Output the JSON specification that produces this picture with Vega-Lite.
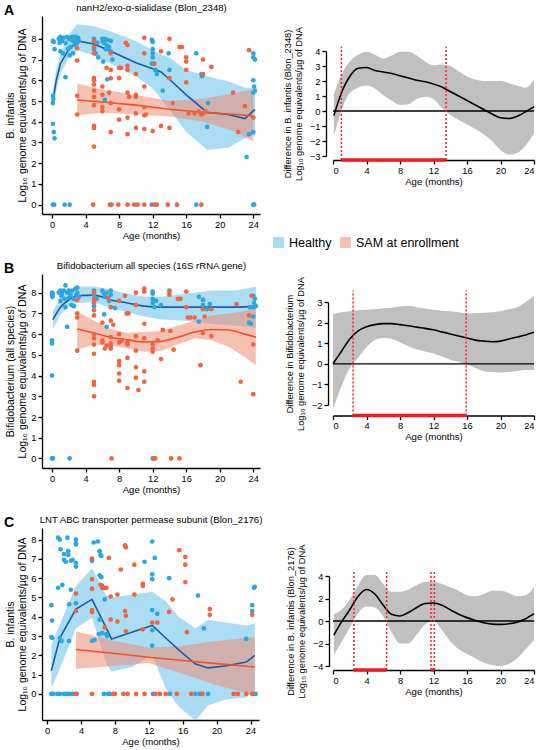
{
"$schema": "https://vega.github.io/schema/vega-lite/v6.json",
"padding": {"left": 4, "top": 2, "right": 2, "bottom": 2},
"spacing": 20,
"config": {
  "font": "Liberation Sans",
  "view": {"stroke": null},
  "axis": {"domainColor": "#000", "domainWidth": 1.3, "tickColor": "#000", "tickWidth": 1.3, "tickSize": 4, "labelFontSize": 9.3, "labelColor": "#000", "titleFontSize": 9.6, "titleFontWeight": "normal", "titleColor": "#000", "grid": false, "labelPadding": 2, "labelOverlap": false, "format": "d"},
  "title": {"fontSize": 14, "fontWeight": "bold", "color": "#000"},
  "legend": {"labelFontSize": 12.5, "labelColor": "#000"}
},
"datasets": {
  "ptsA": [
    {"a":0.1,"v":7.9,"g":"H"},{"a":0.2,"v":7.85,"g":"H"},{"a":0.3,"v":7.5,"g":"H"},{"a":0.1,"v":5.25,"g":"H"},{"a":0.15,"v":5.1,"g":"H"},{"a":0.1,"v":4.9,"g":"H"},{"a":0.1,"v":3.9,"g":"H"},{"a":0.2,"v":3.5,"g":"H"},{"a":0.3,"v":3.2,"g":"H"},{"a":0.1,"v":0,"g":"H"},{"a":0.25,"v":0,"g":"H"},
    {"a":0.8,"v":8.0,"g":"H"},{"a":1.0,"v":8.1,"g":"H"},{"a":1.2,"v":7.9,"g":"H"},{"a":1.4,"v":8.05,"g":"H"},{"a":1.6,"v":7.8,"g":"H"},{"a":1.8,"v":8.1,"g":"H"},{"a":2.0,"v":8.0,"g":"H"},{"a":2.2,"v":7.6,"g":"H"},{"a":2.4,"v":8.1,"g":"H"},{"a":2.6,"v":7.9,"g":"H"},{"a":2.8,"v":8.1,"g":"H"},{"a":3.0,"v":7.95,"g":"H"},{"a":3.1,"v":8.05,"g":"H"},{"a":1.0,"v":7.4,"g":"H"},{"a":1.3,"v":7.3,"g":"H"},{"a":1.9,"v":7.5,"g":"H"},{"a":2.5,"v":7.3,"g":"H"},{"a":1.6,"v":6.15,"g":"H"},{"a":3.2,"v":7.9,"g":"H"},{"a":0.9,"v":7.8,"g":"H"},{"a":2.1,"v":7.2,"g":"H"},{"a":1.1,"v":8.0,"g":"H"},{"a":2.3,"v":7.95,"g":"H"},{"a":2.7,"v":7.7,"g":"H"},{"a":3.0,"v":7.8,"g":"H"},{"a":1.5,"v":0,"g":"H"},{"a":2.1,"v":0,"g":"H"},
    {"a":5,"v":8.0,"g":"H"},{"a":5,"v":7.9,"g":"H"},{"a":5,"v":7.6,"g":"H"},{"a":5,"v":7.5,"g":"H"},{"a":5.2,"v":7.3,"g":"H"},{"a":5.5,"v":7.1,"g":"H"},{"a":5.4,"v":7.8,"g":"H"},
    {"a":6,"v":7.9,"g":"H"},{"a":6.2,"v":7.8,"g":"H"},{"a":6.3,"v":8.0,"g":"H"},{"a":6.5,"v":7.7,"g":"H"},{"a":6.4,"v":7.5,"g":"H"},{"a":6.1,"v":6.9,"g":"H"},{"a":6.6,"v":6.05,"g":"H"},{"a":6.8,"v":7.6,"g":"H"},{"a":7,"v":7.9,"g":"H"},{"a":7,"v":7.4,"g":"H"},{"a":7.2,"v":7.0,"g":"H"},{"a":6.3,"v":5.05,"g":"H"},{"a":6,"v":8.0,"g":"H"},{"a":6.6,"v":7.95,"g":"H"},
    {"a":11.9,"v":7.95,"g":"H"},{"a":12,"v":7.85,"g":"H"},{"a":12,"v":7.5,"g":"H"},{"a":12,"v":7.3,"g":"H"},{"a":12,"v":7.1,"g":"H"},{"a":12.1,"v":6.8,"g":"H"},{"a":12.3,"v":6.5,"g":"H"},{"a":11.9,"v":6.8,"g":"H"},{"a":12.5,"v":6.3,"g":"H"},{"a":13.2,"v":5.5,"g":"H"},{"a":13.9,"v":7.3,"g":"H"},{"a":14,"v":6.5,"g":"H"},{"a":11.9,"v":0,"g":"H"},
    {"a":17.2,"v":7.3,"g":"H"},{"a":17.8,"v":6.3,"g":"H"},{"a":17.9,"v":6.2,"g":"H"},{"a":18.5,"v":3.75,"g":"H"},{"a":18.6,"v":4.9,"g":"H"},{"a":17.2,"v":0,"g":"H"},
    {"a":23.2,"v":2.3,"g":"H"},{"a":23.5,"v":3.4,"g":"H"},{"a":24,"v":7.3,"g":"H"},{"a":24,"v":7.1,"g":"H"},{"a":24.2,"v":7.0,"g":"H"},{"a":24,"v":6.0,"g":"H"},{"a":24.1,"v":5.7,"g":"H"},{"a":24.2,"v":5.5,"g":"H"},{"a":24,"v":5.4,"g":"H"},{"a":24,"v":3.5,"g":"H"},{"a":24,"v":0,"g":"H"},{"a":24.1,"v":0,"g":"H"},
    {"a":3,"v":7.55,"g":"S"},{"a":3,"v":6.95,"g":"S"},{"a":3,"v":5.25,"g":"S"},{"a":3,"v":4.35,"g":"S"},
    {"a":5,"v":7.9,"g":"S"},{"a":5,"v":7.6,"g":"S"},{"a":5,"v":7.3,"g":"S"},{"a":5,"v":6.1,"g":"S"},{"a":5,"v":6.0,"g":"S"},{"a":5,"v":5.8,"g":"S"},{"a":5,"v":5.5,"g":"S"},{"a":5,"v":5.2,"g":"S"},{"a":5,"v":4.8,"g":"S"},{"a":5,"v":3.8,"g":"S"},{"a":5,"v":3.7,"g":"S"},{"a":5,"v":2.8,"g":"S"},{"a":4.9,"v":0,"g":"S"},
    {"a":6,"v":5.7,"g":"S"},{"a":6,"v":5.3,"g":"S"},{"a":6,"v":4.7,"g":"S"},{"a":6,"v":4.5,"g":"S"},{"a":6.5,"v":6.6,"g":"S"},{"a":6.8,"v":5.4,"g":"S"},{"a":7,"v":7.3,"g":"S"},{"a":7,"v":6.5,"g":"S"},{"a":7,"v":6.1,"g":"S"},{"a":7,"v":4.9,"g":"S"},{"a":7,"v":3.5,"g":"S"},{"a":6.9,"v":0,"g":"S"},{"a":7.1,"v":0,"g":"S"},
    {"a":8,"v":6.6,"g":"S"},{"a":8,"v":6.1,"g":"S"},{"a":8,"v":4.6,"g":"S"},{"a":8,"v":4.1,"g":"S"},{"a":8.2,"v":6.6,"g":"S"},{"a":7.9,"v":0,"g":"S"},
    {"a":8.8,"v":7.8,"g":"S"},{"a":9,"v":7.7,"g":"S"},{"a":9,"v":6.7,"g":"S"},{"a":9,"v":6.5,"g":"S"},{"a":9,"v":5.4,"g":"S"},{"a":9.2,"v":5.2,"g":"S"},{"a":9,"v":4.2,"g":"S"},{"a":9,"v":3.4,"g":"S"},{"a":9,"v":0,"g":"S"},
    {"a":10,"v":6.3,"g":"S"},{"a":10,"v":5.3,"g":"S"},{"a":10,"v":5.2,"g":"S"},{"a":10,"v":4.4,"g":"S"},{"a":10,"v":3.7,"g":"S"},{"a":9.8,"v":0,"g":"S"},{"a":10.2,"v":0,"g":"S"},
    {"a":11,"v":8.05,"g":"S"},{"a":11,"v":7.3,"g":"S"},{"a":11,"v":5.7,"g":"S"},{"a":11,"v":4.7,"g":"S"},{"a":11,"v":4.3,"g":"S"},{"a":11.2,"v":4.35,"g":"S"},{"a":11,"v":3.65,"g":"S"},{"a":11,"v":0,"g":"S"},
    {"a":12,"v":3.55,"g":"S"},{"a":12.2,"v":6.8,"g":"S"},{"a":12.2,"v":0,"g":"S"},{"a":12.5,"v":0,"g":"S"},{"a":13,"v":7.4,"g":"S"},{"a":13,"v":3.8,"g":"S"},
    {"a":14,"v":8.0,"g":"S"},{"a":14,"v":6.1,"g":"S"},{"a":14,"v":3.7,"g":"S"},{"a":13.8,"v":0,"g":"S"},{"a":14.4,"v":4.9,"g":"S"},
    {"a":15.2,"v":7.6,"g":"S"},{"a":15.5,"v":7.6,"g":"S"},{"a":14.9,"v":0,"g":"S"},{"a":16,"v":7.1,"g":"S"},{"a":16,"v":6.9,"g":"S"},{"a":16,"v":6.5,"g":"S"},{"a":16,"v":5.9,"g":"S"},{"a":16.3,"v":4.4,"g":"S"},
    {"a":17,"v":4.4,"g":"S"},{"a":17.5,"v":4.5,"g":"S"},{"a":17.8,"v":4.35,"g":"S"},{"a":18,"v":7.0,"g":"S"},{"a":18,"v":6.3,"g":"S"},{"a":18,"v":4.4,"g":"S"},{"a":17.8,"v":0,"g":"S"},{"a":18.3,"v":4.5,"g":"S"},{"a":19,"v":6.65,"g":"S"},
    {"a":21.6,"v":5.4,"g":"S"},{"a":22.2,"v":3.5,"g":"S"},{"a":23,"v":4.75,"g":"S"},{"a":23.5,"v":7.45,"g":"S"},{"a":24,"v":4.2,"g":"S"}
  ],
  "fitA": [
    {"a":0.1,"f":5.0,"lo":4.75,"hi":5.45,"g":"H"},{"a":0.5,"f":6.0,"lo":5.5,"hi":6.5,"g":"H"},{"a":1,"f":6.8,"lo":6.3,"hi":7.3,"g":"H"},{"a":2,"f":7.5,"lo":7.1,"hi":8.2,"g":"H"},{"a":3,"f":7.9,"lo":7.45,"hi":8.7,"g":"H"},{"a":5,"f":7.75,"lo":7.2,"hi":8.6,"g":"H"},{"a":7,"f":7.4,"lo":6.8,"hi":8.35,"g":"H"},{"a":10,"f":6.85,"lo":6.2,"hi":7.9,"g":"H"},{"a":12,"f":6.55,"lo":5.6,"hi":7.45,"g":"H"},{"a":13,"f":6.4,"lo":5.1,"hi":7.25,"g":"H"},{"a":14,"f":6.05,"lo":4.6,"hi":7.1,"g":"H"},{"a":16,"f":5.3,"lo":3.5,"hi":6.5,"g":"H"},{"a":18.5,"f":4.45,"lo":2.65,"hi":6.2,"g":"H"},{"a":21,"f":4.35,"lo":2.75,"hi":5.95,"g":"H"},{"a":23,"f":4.15,"lo":3.2,"hi":5.65,"g":"H"},{"a":24.2,"f":4.6,"lo":3.35,"hi":5.6,"g":"H"},
    {"a":3,"f":5.05,"lo":4.3,"hi":5.85,"g":"S"},{"a":6,"f":4.95,"lo":4.45,"hi":5.55,"g":"S"},{"a":10,"f":4.8,"lo":4.35,"hi":5.3,"g":"S"},{"a":14,"f":4.6,"lo":4.25,"hi":5.0,"g":"S"},{"a":18,"f":4.45,"lo":4.0,"hi":5.1,"g":"S"},{"a":22,"f":4.35,"lo":3.5,"hi":5.4,"g":"S"},{"a":24,"f":4.28,"lo":3.05,"hi":5.55,"g":"S"}
  ],
  "ptsB": [
    {"a":0,"v":8.0,"g":"H"},{"a":0,"v":7.9,"g":"H"},{"a":0.05,"v":7.8,"g":"H"},{"a":0.1,"v":7.95,"g":"H"},{"a":0,"v":5.7,"g":"H"},{"a":0,"v":5.55,"g":"H"},{"a":0,"v":4.0,"g":"H"},{"a":0,"v":0,"g":"H"},{"a":0.1,"v":0,"g":"H"},{"a":2.1,"v":0,"g":"H"},
    {"a":0.8,"v":8.0,"g":"H"},{"a":1,"v":8.1,"g":"H"},{"a":1.2,"v":7.95,"g":"H"},{"a":1.4,"v":8.1,"g":"H"},{"a":1.6,"v":8.35,"g":"H"},{"a":1.5,"v":7.7,"g":"H"},{"a":1.8,"v":8.0,"g":"H"},{"a":2,"v":8.1,"g":"H"},{"a":2.2,"v":7.9,"g":"H"},{"a":2.4,"v":8.1,"g":"H"},{"a":2.6,"v":7.7,"g":"H"},{"a":2.8,"v":8.2,"g":"H"},{"a":3,"v":8.0,"g":"H"},{"a":3,"v":8.25,"g":"H"},{"a":1,"v":7.6,"g":"H"},{"a":2.3,"v":7.4,"g":"H"},{"a":1.8,"v":6.35,"g":"H"},{"a":1.6,"v":7.3,"g":"H"},{"a":3.2,"v":7.8,"g":"H"},{"a":2.6,"v":7.35,"g":"H"},{"a":1.1,"v":7.85,"g":"H"},{"a":2.0,"v":7.75,"g":"H"},{"a":2.9,"v":7.9,"g":"H"},
    {"a":5,"v":8.1,"g":"H"},{"a":5,"v":7.9,"g":"H"},{"a":5,"v":7.5,"g":"H"},{"a":5,"v":7.35,"g":"H"},{"a":5.3,"v":7.7,"g":"H"},
    {"a":6,"v":8.1,"g":"H"},{"a":6.2,"v":7.95,"g":"H"},{"a":6.3,"v":7.8,"g":"H"},{"a":6.5,"v":8.0,"g":"H"},{"a":6.8,"v":7.6,"g":"H"},{"a":7,"v":8.1,"g":"H"},{"a":7,"v":7.9,"g":"H"},{"a":6.2,"v":6.95,"g":"H"},{"a":6.5,"v":6.35,"g":"H"},{"a":7.5,"v":7.25,"g":"H"},
    {"a":12,"v":8.05,"g":"H"},{"a":12,"v":7.95,"g":"H"},{"a":12,"v":7.7,"g":"H"},{"a":12,"v":7.5,"g":"H"},{"a":12.2,"v":7.3,"g":"H"},{"a":12.4,"v":7.6,"g":"H"},{"a":13,"v":7.4,"g":"H"},{"a":12,"v":0,"g":"H"},
    {"a":14,"v":8.1,"g":"H"},{"a":17.5,"v":7.8,"g":"H"},{"a":17.5,"v":6.6,"g":"H"},{"a":18,"v":7.65,"g":"H"},{"a":18,"v":7.4,"g":"H"},{"a":18.5,"v":7.2,"g":"H"},{"a":18.8,"v":7.45,"g":"H"},
    {"a":24,"v":7.85,"g":"H"},{"a":24.2,"v":7.7,"g":"H"},{"a":24.1,"v":7.5,"g":"H"},{"a":24,"v":7.3,"g":"H"},{"a":24.3,"v":7.35,"g":"H"},{"a":23.5,"v":6.55,"g":"H"},{"a":23.7,"v":6.5,"g":"H"},{"a":24,"v":6.85,"g":"H"},{"a":23.6,"v":7.3,"g":"H"},
    {"a":3,"v":7.65,"g":"S"},{"a":3,"v":7.0,"g":"S"},{"a":3,"v":6.8,"g":"S"},{"a":3,"v":5.2,"g":"S"},
    {"a":5,"v":8.0,"g":"S"},{"a":5,"v":7.7,"g":"S"},{"a":5,"v":7.5,"g":"S"},{"a":5,"v":7.15,"g":"S"},{"a":5,"v":6.9,"g":"S"},{"a":5,"v":6.0,"g":"S"},{"a":5,"v":5.8,"g":"S"},{"a":5,"v":5.5,"g":"S"},{"a":5,"v":5.05,"g":"S"},{"a":5,"v":3.7,"g":"S"},{"a":5,"v":3.55,"g":"S"},{"a":5,"v":3.0,"g":"S"},
    {"a":6,"v":6.55,"g":"S"},{"a":6,"v":5.7,"g":"S"},{"a":6,"v":5.6,"g":"S"},{"a":6.3,"v":5.3,"g":"S"},{"a":6.5,"v":5.45,"g":"S"},{"a":6.7,"v":7.75,"g":"S"},{"a":7,"v":6.65,"g":"S"},{"a":7,"v":5.85,"g":"S"},{"a":7,"v":5.55,"g":"S"},{"a":7,"v":5.4,"g":"S"},{"a":7,"v":5.3,"g":"S"},{"a":7,"v":7.3,"g":"S"},{"a":7.1,"v":0,"g":"S"},{"a":7.3,"v":6.45,"g":"S"},
    {"a":8,"v":7.6,"g":"S"},{"a":8,"v":6.0,"g":"S"},{"a":8,"v":5.6,"g":"S"},{"a":8,"v":4.7,"g":"S"},{"a":8,"v":4.5,"g":"S"},{"a":8,"v":4.1,"g":"S"},{"a":8,"v":3.75,"g":"S"},{"a":8.3,"v":5.7,"g":"S"},
    {"a":8.7,"v":7.85,"g":"S"},{"a":8.9,"v":7.0,"g":"S"},{"a":9.1,"v":7.0,"g":"S"},{"a":9,"v":5.6,"g":"S"},{"a":9,"v":5.5,"g":"S"},{"a":9,"v":4.85,"g":"S"},{"a":9,"v":3.4,"g":"S"},
    {"a":10,"v":8.0,"g":"S"},{"a":10,"v":7.4,"g":"S"},{"a":10,"v":5.9,"g":"S"},{"a":10,"v":5.2,"g":"S"},{"a":10,"v":4.4,"g":"S"},{"a":10,"v":3.9,"g":"S"},{"a":10.3,"v":3.3,"g":"S"},
    {"a":11,"v":8.2,"g":"S"},{"a":11,"v":8.05,"g":"S"},{"a":11,"v":6.5,"g":"S"},{"a":11,"v":5.8,"g":"S"},{"a":11,"v":4.2,"g":"S"},{"a":11,"v":3.7,"g":"S"},
    {"a":12,"v":5.5,"g":"S"},{"a":12,"v":5.3,"g":"S"},{"a":12,"v":5.15,"g":"S"},{"a":12.1,"v":0,"g":"S"},{"a":12.3,"v":0,"g":"S"},{"a":12.6,"v":5.7,"g":"S"},{"a":13,"v":4.8,"g":"S"},{"a":13.2,"v":6.2,"g":"S"},
    {"a":14,"v":8.05,"g":"S"},{"a":14,"v":7.9,"g":"S"},{"a":14.1,"v":6.15,"g":"S"},{"a":14.2,"v":0,"g":"S"},{"a":14.5,"v":5.25,"g":"S"},
    {"a":15,"v":7.7,"g":"S"},{"a":15.3,"v":7.7,"g":"S"},{"a":15.2,"v":0,"g":"S"},{"a":16,"v":8.05,"g":"S"},{"a":16,"v":7.3,"g":"S"},{"a":16.2,"v":6.8,"g":"S"},{"a":16.5,"v":6.8,"g":"S"},{"a":17,"v":6.8,"g":"S"},{"a":17.7,"v":4.5,"g":"S"},{"a":18,"v":7.2,"g":"S"},{"a":18,"v":6.05,"g":"S"},{"a":18.2,"v":6.85,"g":"S"},{"a":19,"v":7.2,"g":"S"},{"a":19,"v":5.9,"g":"S"},
    {"a":22,"v":7.45,"g":"S"},{"a":22.5,"v":3.7,"g":"S"},{"a":23.5,"v":6.9,"g":"S"},{"a":23.8,"v":7.85,"g":"S"},{"a":24,"v":5.5,"g":"S"},{"a":24,"v":3.1,"g":"S"}
  ],
  "fitB": [
    {"a":0.1,"f":6.7,"lo":6.25,"hi":7.1,"g":"H"},{"a":1,"f":7.3,"lo":6.95,"hi":7.7,"g":"H"},{"a":2,"f":7.65,"lo":7.35,"hi":8.1,"g":"H"},{"a":3,"f":7.85,"lo":7.5,"hi":8.3,"g":"H"},{"a":5,"f":7.88,"lo":7.55,"hi":8.3,"g":"H"},{"a":7,"f":7.65,"lo":7.25,"hi":8.15,"g":"H"},{"a":9,"f":7.5,"lo":7.05,"hi":7.95,"g":"H"},{"a":11,"f":7.35,"lo":6.85,"hi":7.8,"g":"H"},{"a":13,"f":7.3,"lo":6.7,"hi":7.8,"g":"H"},{"a":16,"f":7.3,"lo":6.65,"hi":7.95,"g":"H"},{"a":19,"f":7.3,"lo":6.5,"hi":8.1,"g":"H"},{"a":22,"f":7.3,"lo":6.4,"hi":8.1,"g":"H"},{"a":24.3,"f":7.35,"lo":6.3,"hi":8.3,"g":"H"},
    {"a":3,"f":6.25,"lo":5.25,"hi":7.1,"g":"S"},{"a":5,"f":6.05,"lo":5.5,"hi":6.65,"g":"S"},{"a":7,"f":5.85,"lo":5.45,"hi":6.25,"g":"S"},{"a":9,"f":5.72,"lo":5.3,"hi":6.05,"g":"S"},{"a":11,"f":5.62,"lo":5.15,"hi":6.1,"g":"S"},{"a":13,"f":5.65,"lo":5.2,"hi":6.15,"g":"S"},{"a":15,"f":5.85,"lo":5.5,"hi":6.4,"g":"S"},{"a":17,"f":6.1,"lo":5.8,"hi":6.65,"g":"S"},{"a":19,"f":6.22,"lo":5.7,"hi":6.9,"g":"S"},{"a":21,"f":6.2,"lo":5.4,"hi":7.0,"g":"S"},{"a":23,"f":6.0,"lo":4.9,"hi":7.1,"g":"S"},{"a":24.3,"f":5.85,"lo":4.5,"hi":7.3,"g":"S"}
  ],
  "ptsC": [
    {"a":0.5,"v":4.6,"g":"H"},{"a":0.6,"v":3.8,"g":"H"},{"a":0.5,"v":2.95,"g":"H"},{"a":0.6,"v":2.9,"g":"H"},{"a":0.5,"v":0,"g":"H"},{"a":0.7,"v":0,"g":"H"},
    {"a":1.3,"v":8.1,"g":"H"},{"a":1.5,"v":8.0,"g":"H"},{"a":1.6,"v":7.5,"g":"H"},{"a":1.3,"v":5.5,"g":"H"},{"a":1.8,"v":5.65,"g":"H"},{"a":1.5,"v":2.9,"g":"H"},{"a":1.7,"v":2.75,"g":"H"},{"a":2,"v":7.25,"g":"H"},{"a":2,"v":6.95,"g":"H"},{"a":2.2,"v":6.85,"g":"H"},{"a":2.4,"v":8.1,"g":"H"},{"a":2.5,"v":7.4,"g":"H"},{"a":2.5,"v":7.2,"g":"H"},{"a":2.6,"v":4.65,"g":"H"},{"a":2.8,"v":5.4,"g":"H"},{"a":2.8,"v":6.9,"g":"H"},{"a":3,"v":6.95,"g":"H"},{"a":3.4,"v":8.0,"g":"H"},{"a":3.4,"v":7.8,"g":"H"},{"a":3.4,"v":7.75,"g":"H"},{"a":3.4,"v":6.8,"g":"H"},{"a":3.4,"v":6.6,"g":"H"},{"a":3.4,"v":4.7,"g":"H"},{"a":2.6,"v":2.75,"g":"H"},
    {"a":1.2,"v":0,"g":"H"},{"a":1.5,"v":0,"g":"H"},{"a":2,"v":0,"g":"H"},{"a":2.3,"v":0,"g":"H"},{"a":2.6,"v":0,"g":"H"},{"a":3,"v":0,"g":"H"},{"a":3.5,"v":0,"g":"H"},
    {"a":5.3,"v":7.0,"g":"H"},{"a":5.3,"v":6.9,"g":"H"},{"a":5.5,"v":7.85,"g":"H"},{"a":5.3,"v":5.45,"g":"H"},{"a":5.3,"v":2.75,"g":"H"},{"a":5.6,"v":2.8,"g":"H"},{"a":6,"v":7.9,"g":"H"},{"a":6.2,"v":7.4,"g":"H"},{"a":6.3,"v":7.2,"g":"H"},{"a":6.4,"v":7.15,"g":"H"},{"a":6.4,"v":6.05,"g":"H"},{"a":6.2,"v":6.15,"g":"H"},{"a":6.2,"v":3.85,"g":"H"},{"a":6.5,"v":5.6,"g":"H"},{"a":6.1,"v":3.1,"g":"H"},{"a":6.5,"v":3.15,"g":"H"},{"a":6.8,"v":4.9,"g":"H"},{"a":7,"v":3.1,"g":"H"},{"a":7.1,"v":3.0,"g":"H"},{"a":6.7,"v":0,"g":"H"},{"a":7.2,"v":0,"g":"H"},{"a":7.4,"v":0,"g":"H"},
    {"a":12.4,"v":7.9,"g":"H"},{"a":12.4,"v":6.2,"g":"H"},{"a":12.4,"v":5.95,"g":"H"},{"a":12.4,"v":4.35,"g":"H"},{"a":12.4,"v":3.3,"g":"H"},{"a":12.4,"v":2.5,"g":"H"},{"a":12.7,"v":7.05,"g":"H"},{"a":11.5,"v":6.85,"g":"H"},{"a":13,"v":4.15,"g":"H"},{"a":14.4,"v":6.0,"g":"H"},{"a":12.5,"v":0,"g":"H"},{"a":14.5,"v":0,"g":"H"},
    {"a":17.8,"v":5.1,"g":"H"},{"a":18.5,"v":3.4,"g":"H"},{"a":17.5,"v":0,"g":"H"},{"a":18,"v":0,"g":"H"},{"a":18.3,"v":0,"g":"H"},{"a":19,"v":0,"g":"H"},
    {"a":23.5,"v":2.85,"g":"H"},{"a":24.2,"v":4.6,"g":"H"},{"a":24.2,"v":4.3,"g":"H"},{"a":24.4,"v":5.5,"g":"H"},{"a":24.5,"v":5.55,"g":"H"},{"a":24.3,"v":0,"g":"H"},{"a":24.6,"v":0,"g":"H"},
    {"a":3.4,"v":5.2,"g":"S"},{"a":3.4,"v":4.3,"g":"S"},{"a":3.4,"v":0,"g":"S"},
    {"a":5.3,"v":7.0,"g":"S"},{"a":5.3,"v":5.95,"g":"S"},{"a":5.3,"v":5.45,"g":"S"},{"a":5.3,"v":4.35,"g":"S"},{"a":5.3,"v":4.25,"g":"S"},{"a":5.3,"v":0,"g":"S"},{"a":6.3,"v":5.65,"g":"S"},{"a":6.5,"v":5.5,"g":"S"},{"a":6.8,"v":5.5,"g":"S"},{"a":7,"v":5.5,"g":"S"},{"a":6.8,"v":3.45,"g":"S"},{"a":7.3,"v":7.05,"g":"S"},{"a":7.5,"v":5.05,"g":"S"},{"a":7.5,"v":3.85,"g":"S"},{"a":8,"v":0,"g":"S"},{"a":7.8,"v":0,"g":"S"},
    {"a":8.3,"v":5.15,"g":"S"},{"a":8.3,"v":3.75,"g":"S"},{"a":8.7,"v":6.45,"g":"S"},{"a":9.2,"v":7.7,"g":"S"},{"a":9.3,"v":7.6,"g":"S"},{"a":9.2,"v":4.3,"g":"S"},{"a":9.3,"v":4.05,"g":"S"},{"a":9.3,"v":3.25,"g":"S"},{"a":10.3,"v":6.7,"g":"S"},{"a":10.3,"v":5.15,"g":"S"},{"a":11.3,"v":5.7,"g":"S"},{"a":11.3,"v":5.6,"g":"S"},{"a":11.3,"v":3.35,"g":"S"},{"a":12.4,"v":3.7,"g":"S"},{"a":13,"v":3.7,"g":"S"},{"a":13.3,"v":0,"g":"S"},{"a":9,"v":0,"g":"S"},{"a":9.5,"v":0,"g":"S"},{"a":10.5,"v":0,"g":"S"},{"a":11.5,"v":0,"g":"S"},{"a":12.8,"v":0,"g":"S"},{"a":14,"v":0,"g":"S"},{"a":15.3,"v":0,"g":"S"},
    {"a":14.4,"v":4.25,"g":"S"},{"a":14.8,"v":4.9,"g":"S"},{"a":15.6,"v":7.45,"g":"S"},{"a":16.3,"v":7.1,"g":"S"},{"a":16.3,"v":6.7,"g":"S"},{"a":16.3,"v":5.8,"g":"S"},{"a":16.5,"v":3.2,"g":"S"},{"a":17,"v":0,"g":"S"},{"a":18.3,"v":0,"g":"S"},
    {"a":19.2,"v":4.4,"g":"S"},{"a":19.2,"v":4.1,"g":"S"},
    {"a":22,"v":0,"g":"S"},{"a":22.5,"v":0,"g":"S"},{"a":23.5,"v":0,"g":"S"},{"a":24.2,"v":4.1,"g":"S"},{"a":24.2,"v":0,"g":"S"}
  ],
  "fitC": [
    {"a":0.5,"f":1.2,"lo":0.3,"hi":2.55,"g":"H"},{"a":1.5,"f":2.9,"lo":1.3,"hi":3.6,"g":"H"},{"a":3.4,"f":4.4,"lo":3.4,"hi":5.6,"g":"H"},{"a":5.3,"f":4.9,"lo":3.95,"hi":6.5,"g":"H"},{"a":7,"f":3.4,"lo":1.6,"hi":5.1,"g":"H"},{"a":7.6,"f":2.85,"lo":1.15,"hi":5.0,"g":"H"},{"a":10,"f":3.2,"lo":1.4,"hi":5.15,"g":"H"},{"a":12.4,"f":3.55,"lo":2.0,"hi":5.3,"g":"H"},{"a":14,"f":2.9,"lo":0.3,"hi":4.8,"g":"H"},{"a":15.5,"f":2.3,"lo":-0.65,"hi":4.0,"g":"H"},{"a":17.5,"f":1.55,"lo":-1.38,"hi":3.4,"g":"H"},{"a":19,"f":1.35,"lo":-0.6,"hi":3.85,"g":"H"},{"a":21,"f":1.45,"lo":-0.3,"hi":3.7,"g":"H"},{"a":23.5,"f":1.65,"lo":-0.17,"hi":3.55,"g":"H"},{"a":24.5,"f":2.0,"lo":0.2,"hi":3.65,"g":"H"},
    {"a":3.4,"f":2.3,"lo":1.3,"hi":3.25,"g":"S"},{"a":8,"f":2.1,"lo":1.45,"hi":2.75,"g":"S"},{"a":12,"f":1.9,"lo":1.6,"hi":2.4,"g":"S"},{"a":16,"f":1.73,"lo":1.05,"hi":2.5,"g":"S"},{"a":20,"f":1.57,"lo":0.45,"hi":2.75,"g":"S"},{"a":24.5,"f":1.4,"lo":-0.05,"hi":2.95,"g":"S"}
  ],
  "difA": [
    {"a":0.1,"d":-0.3,"lo":-1.7,"hi":1.1},{"a":1,"d":1.2,"lo":0.0,"hi":2.4},{"a":2,"d":2.3,"lo":1.2,"hi":3.3},{"a":3,"d":2.85,"lo":1.55,"hi":3.75},{"a":4,"d":2.9,"lo":1.7,"hi":3.95},{"a":5,"d":2.7,"lo":1.5,"hi":3.75},{"a":6,"d":2.6,"lo":1.05,"hi":3.5},{"a":7,"d":2.5,"lo":0.7,"hi":3.7},{"a":8,"d":2.35,"lo":0.4,"hi":3.95},{"a":9,"d":2.2,"lo":0.45,"hi":3.95},{"a":10,"d":2.05,"lo":0.8,"hi":3.7},{"a":11,"d":1.95,"lo":0.95,"hi":3.3},{"a":12,"d":1.8,"lo":0.8,"hi":3.05},{"a":13,"d":1.6,"lo":0.2,"hi":3.1},{"a":14,"d":1.3,"lo":-0.25,"hi":3.0},{"a":15,"d":1.0,"lo":-0.6,"hi":2.65},{"a":16,"d":0.7,"lo":-0.9,"hi":2.3},{"a":17,"d":0.4,"lo":-1.2,"hi":2.1},{"a":18,"d":0.1,"lo":-1.55,"hi":2.0},{"a":19,"d":-0.2,"lo":-2.0,"hi":2.0},{"a":20,"d":-0.45,"lo":-2.6,"hi":2.0},{"a":21,"d":-0.5,"lo":-2.9,"hi":1.85},{"a":22,"d":-0.35,"lo":-2.8,"hi":1.7},{"a":23,"d":-0.05,"lo":-2.3,"hi":1.55},{"a":24,"d":0.3,"lo":-1.5,"hi":2.1}
  ],
  "difB": [
    {"a":0,"d":0.0,"lo":-2.2,"hi":2.4},{"a":1,"d":0.6,"lo":-1.1,"hi":2.5},{"a":2,"d":1.2,"lo":-0.2,"hi":2.55},{"a":3,"d":1.6,"lo":0.3,"hi":2.6},{"a":4,"d":1.8,"lo":0.8,"hi":2.62},{"a":5,"d":1.9,"lo":1.15,"hi":2.65},{"a":6,"d":1.95,"lo":1.25,"hi":2.7},{"a":7,"d":1.95,"lo":1.2,"hi":2.72},{"a":8,"d":1.9,"lo":1.05,"hi":2.78},{"a":9,"d":1.85,"lo":0.85,"hi":2.8},{"a":10,"d":1.78,"lo":0.7,"hi":2.75},{"a":11,"d":1.72,"lo":0.6,"hi":2.68},{"a":12,"d":1.65,"lo":0.5,"hi":2.62},{"a":13,"d":1.55,"lo":0.35,"hi":2.58},{"a":14,"d":1.45,"lo":0.2,"hi":2.55},{"a":15,"d":1.35,"lo":0.1,"hi":2.5},{"a":16,"d":1.25,"lo":-0.05,"hi":2.45},{"a":17,"d":1.15,"lo":-0.2,"hi":2.45},{"a":18,"d":1.1,"lo":-0.35,"hi":2.48},{"a":19,"d":1.07,"lo":-0.4,"hi":2.5},{"a":20,"d":1.1,"lo":-0.42,"hi":2.55},{"a":21,"d":1.2,"lo":-0.4,"hi":2.65},{"a":22,"d":1.3,"lo":-0.35,"hi":2.75},{"a":23,"d":1.4,"lo":-0.3,"hi":3.0},{"a":24,"d":1.53,"lo":-0.3,"hi":3.3}
  ],
  "difC": [
    {"a":0.1,"d":-1.25,"lo":-3.0,"hi":0.6},{"a":1,"d":-0.1,"lo":-1.9,"hi":1.0},{"a":2,"d":1.0,"lo":-0.6,"hi":1.9},{"a":3,"d":2.2,"lo":0.7,"hi":3.2},{"a":4,"d":2.8,"lo":1.3,"hi":4.1},{"a":5,"d":2.4,"lo":1.2,"hi":4.1},{"a":6,"d":1.4,"lo":0.4,"hi":3.3},{"a":7,"d":0.6,"lo":-1.0,"hi":2.6},{"a":8,"d":0.45,"lo":-2.0,"hi":2.6},{"a":9,"d":0.75,"lo":-2.0,"hi":2.8},{"a":10,"d":1.2,"lo":-1.2,"hi":3.2},{"a":11,"d":1.55,"lo":-0.3,"hi":3.5},{"a":12,"d":1.6,"lo":0.0,"hi":3.5},{"a":13,"d":1.4,"lo":-0.8,"hi":3.3},{"a":14,"d":1.0,"lo":-1.8,"hi":3.0},{"a":15,"d":0.6,"lo":-2.5,"hi":2.7},{"a":16,"d":0.3,"lo":-2.9,"hi":2.3},{"a":17,"d":0.05,"lo":-3.3,"hi":2.2},{"a":18,"d":-0.15,"lo":-3.7,"hi":2.4},{"a":19,"d":-0.28,"lo":-3.9,"hi":2.7},{"a":20,"d":-0.3,"lo":-4.0,"hi":2.7},{"a":21,"d":-0.25,"lo":-3.8,"hi":2.5},{"a":22,"d":-0.1,"lo":-3.3,"hi":2.2},{"a":23,"d":0.2,"lo":-2.5,"hi":2.3},{"a":24,"d":0.65,"lo":-1.7,"hi":3.0}
  ]
},
"hconcat": [
  {"bounds": "flush", "spacing": 60, "vconcat": [
    {"width": 218, "height": 198,
     "title": {"text": "A", "anchor": "start", "frame": "group", "dx": -38, "dy": 20},
     "resolve": {"axis": {"x": "independent"}},
     "layer": [
      {"layer": [
        {"data": {"name": "fitA"}, "mark": {"type": "area", "opacity": 0.55},
         "encoding": {"x": {"field": "a", "type": "quantitative", "scale": {"domain": [-1.2, 24.8], "nice": false, "zero": false}, "axis": {"orient": "top", "domain": false, "ticks": false, "labels": false, "title": "nanH2/exo-α-sialidase (Blon_2348)", "titlePadding": 4}},
          "y": {"field": "lo", "type": "quantitative", "scale": {"domain": [-0.45, 9.1], "nice": false, "zero": false}, "axis": {"values": [0,1,2,3,4,5,6,7,8], "tickCount": 20, "format": "d", "title": ["B. infantis", "Log₁₀ genome equivalents/µg of DNA"], "titleFontSize": 10.5, "titlePadding": 3, "titleLineHeight": 12}}, "y2": {"field": "hi"},
          "fill": {"field": "g", "type": "nominal", "scale": {"domain": ["H","S"], "range": ["#64bfe9", "#ed8c73"]}, "legend": {"orient": "none", "legendX": 230, "legendY": 220, "direction": "horizontal", "title": null, "symbolType": "square", "symbolSize": 120, "columnPadding": 7, "labelExpr": "datum.label == 'H' ? 'Healthy' : 'SAM at enrollment'"}}}},
        {"data": {"name": "fitA"}, "mark": {"type": "line", "strokeWidth": 1.6},
         "encoding": {"x": {"field": "a", "type": "quantitative"}, "y": {"field": "f", "type": "quantitative"},
          "stroke": {"field": "g", "type": "nominal", "scale": {"range": ["#1b5ca8", "#f0522a"]}, "legend": null}}}
      ]},
      {"data": {"name": "ptsA"}, "mark": {"type": "circle", "size": 22, "opacity": 1},
       "encoding": {"x": {"field": "a", "type": "quantitative", "axis": {"orient": "bottom", "values": [0,4,8,12,16,20,24], "tickCount": 20, "format": "d", "title": "Age (months)", "titlePadding": 1}},
        "y": {"field": "v", "type": "quantitative"},
        "color": {"field": "g", "type": "nominal", "scale": {"range": ["#2aa7e0", "#f1643f"]}, "legend": null}}}
     ]},
    {"width": 218, "height": 194,
     "title": {"text": "B", "anchor": "start", "frame": "group", "dx": -38, "dy": 20},
     "resolve": {"axis": {"x": "independent"}},
     "layer": [
      {"layer": [
        {"data": {"name": "fitB"}, "mark": {"type": "area", "opacity": 0.55},
         "encoding": {"x": {"field": "a", "type": "quantitative", "scale": {"domain": [-1.2, 24.8], "nice": false, "zero": false}, "axis": {"orient": "top", "domain": false, "ticks": false, "labels": false, "title": "Bifidobacterium all species (16S rRNA gene)", "titlePadding": 4}},
          "y": {"field": "lo", "type": "quantitative", "scale": {"domain": [-0.46, 8.9], "nice": false, "zero": false}, "axis": {"values": [0,1,2,3,4,5,6,7,8], "tickCount": 20, "format": "d", "title": ["Bifidobacterium (all species)", "Log₁₀ genome equivalents/µg of DNA"], "titleFontSize": 10.5, "titlePadding": 3, "titleLineHeight": 12}}, "y2": {"field": "hi"},
          "fill": {"field": "g", "type": "nominal", "scale": {"domain": ["H","S"], "range": ["#64bfe9", "#ed8c73"]}, "legend": {"orient": "none", "legendX": 230, "legendY": 220, "direction": "horizontal", "title": null, "symbolType": "square", "symbolSize": 120, "columnPadding": 7, "labelExpr": "datum.label == 'H' ? 'Healthy' : 'SAM at enrollment'"}}}},
        {"data": {"name": "fitB"}, "mark": {"type": "line", "strokeWidth": 1.6, "interpolate": "monotone"},
         "encoding": {"x": {"field": "a", "type": "quantitative"}, "y": {"field": "f", "type": "quantitative"},
          "stroke": {"field": "g", "type": "nominal", "scale": {"range": ["#1b5ca8", "#f0522a"]}, "legend": null}}}
      ]},
      {"data": {"name": "ptsB"}, "mark": {"type": "circle", "size": 22, "opacity": 1},
       "encoding": {"x": {"field": "a", "type": "quantitative", "axis": {"orient": "bottom", "values": [0,4,8,12,16,20,24], "tickCount": 20, "format": "d", "title": "Age (months)", "titlePadding": 1}},
        "y": {"field": "v", "type": "quantitative"},
        "color": {"field": "g", "type": "nominal", "scale": {"range": ["#2aa7e0", "#f1643f"]}, "legend": null}}}
     ]},
    {"width": 217, "height": 192,
     "title": {"text": "C", "anchor": "start", "frame": "group", "dx": -38, "dy": 20},
     "resolve": {"axis": {"x": "independent"}},
     "layer": [
      {"layer": [
        {"data": {"name": "fitC"}, "mark": {"type": "area", "opacity": 0.55},
         "encoding": {"x": {"field": "a", "type": "quantitative", "scale": {"domain": [-0.6, 25], "nice": false, "zero": false}, "axis": {"orient": "top", "domain": false, "ticks": false, "labels": false, "title": "LNT ABC transporter permease subunit (Blon_2176)", "titlePadding": 4}},
          "y": {"field": "lo", "type": "quantitative", "scale": {"domain": [-1.35, 8.6], "nice": false, "zero": false}, "axis": {"values": [0,1,2,3,4,5,6,7,8], "tickCount": 20, "format": "d", "title": ["B. infantis", "Log₁₀ genome equivalents/µg of DNA"], "titleFontSize": 10.5, "titlePadding": 3, "titleLineHeight": 12}}, "y2": {"field": "hi"},
          "fill": {"field": "g", "type": "nominal", "scale": {"domain": ["H","S"], "range": ["#64bfe9", "#ed8c73"]}, "legend": {"orient": "none", "legendX": 230, "legendY": 220, "direction": "horizontal", "title": null, "symbolType": "square", "symbolSize": 120, "columnPadding": 7, "labelExpr": "datum.label == 'H' ? 'Healthy' : 'SAM at enrollment'"}}}},
        {"data": {"name": "fitC"}, "mark": {"type": "line", "strokeWidth": 1.6},
         "encoding": {"x": {"field": "a", "type": "quantitative"}, "y": {"field": "f", "type": "quantitative"},
          "stroke": {"field": "g", "type": "nominal", "scale": {"range": ["#1b5ca8", "#f0522a"]}, "legend": null}}}
      ]},
      {"data": {"name": "ptsC"}, "mark": {"type": "circle", "size": 22, "opacity": 1},
       "encoding": {"x": {"field": "a", "type": "quantitative", "axis": {"orient": "bottom", "values": [0,4,8,12,16,20,24], "tickCount": 20, "format": "d", "title": "Age (months)", "titlePadding": 1}},
        "y": {"field": "v", "type": "quantitative"},
        "color": {"field": "g", "type": "nominal", "scale": {"range": ["#2aa7e0", "#f1643f"]}, "legend": null}}}
     ]}
  ]},
  {"bounds": "flush", "spacing": 10, "vconcat": [
    {"width": 201, "height": 25, "data": {"values": []}, "mark": "point", "encoding": {}},
    {"width": 201, "height": 105,
     "layer": [
      {"data": {"name": "difA"}, "mark": {"type": "area", "color": "#c0c0c0", "interpolate": "monotone"},
       "encoding": {"x": {"field": "a", "type": "quantitative", "scale": {"domain": [0, 24], "nice": false, "zero": false}, "axis": {"values": [0,4,8,12,16,20,24], "tickCount": 20, "format": "d", "offset": 4, "title": "Age (months)", "titlePadding": 1}},
        "y": {"field": "lo", "type": "quantitative", "scale": {"domain": [-3, 4], "nice": false, "zero": false}, "axis": {"values": [-3,-2,-1,0,1,2,3,4], "tickCount": 20, "format": "d", "offset": 7, "title": ["Difference in B. infantis (Blon_2348)", "Log₁₀ genome equivalents/µg of DNA"], "titleFontSize": 9.3, "titleLineHeight": 11, "titlePadding": 6}},
        "y2": {"field": "hi"}}},
      {"data": {"values": [{}]}, "mark": {"type": "rule", "color": "#000", "strokeWidth": 1.3}, "encoding": {"y": {"datum": 0}}},
      {"data": {"name": "difA"}, "mark": {"type": "line", "color": "#000", "strokeWidth": 1.6, "interpolate": "monotone"},
       "encoding": {"x": {"field": "a", "type": "quantitative"}, "y": {"field": "d", "type": "quantitative"}}},
      {"data": {"values": [{"x": 1.0}, {"x": 13.5}]}, "mark": {"type": "rule", "color": "#ff2020", "strokeWidth": 1.5, "strokeDash": [2, 2]},
       "encoding": {"x": {"field": "x", "type": "quantitative"}, "y": {"datum": -3.27}, "y2": {"datum": 4.3}}},
      {"data": {"values": [{"x1": 1.0, "x2": 13.5}]}, "mark": {"type": "rule", "color": "#ee1c24", "strokeWidth": 3.5},
       "encoding": {"x": {"field": "x1", "type": "quantitative"}, "x2": {"field": "x2"}, "y": {"datum": -3.27}}}
     ]},
    {"width": 201, "height": 126, "data": {"values": []}, "mark": "point", "encoding": {}},
    {"width": 201, "height": 103,
     "layer": [
      {"data": {"name": "difB"}, "mark": {"type": "area", "color": "#c0c0c0", "interpolate": "monotone"},
       "encoding": {"x": {"field": "a", "type": "quantitative", "scale": {"domain": [0, 24], "nice": false, "zero": false}, "axis": {"values": [0,4,8,12,16,20,24], "tickCount": 20, "format": "d", "offset": 10.5, "title": "Age (months)", "titlePadding": 1}},
        "y": {"field": "lo", "type": "quantitative", "scale": {"domain": [-2, 3], "nice": false, "zero": false}, "axis": {"values": [-2,-1,0,1,2,3], "tickCount": 20, "format": "d", "offset": 5, "title": ["Difference in Bifidobacterium", "Log₁₀ genome equivalents/µg of DNA"], "titleFontSize": 9.3, "titleLineHeight": 11, "titlePadding": 6}},
        "y2": {"field": "hi"}}},
      {"data": {"values": [{}]}, "mark": {"type": "rule", "color": "#000", "strokeWidth": 1.3}, "encoding": {"y": {"datum": 0}}},
      {"data": {"name": "difB"}, "mark": {"type": "line", "color": "#000", "strokeWidth": 1.6, "interpolate": "monotone"},
       "encoding": {"x": {"field": "a", "type": "quantitative"}, "y": {"field": "d", "type": "quantitative"}}},
      {"data": {"values": [{"x": 2.4}, {"x": 15.9}]}, "mark": {"type": "rule", "color": "#ff2020", "strokeWidth": 1.5, "strokeDash": [2, 2]},
       "encoding": {"x": {"field": "x", "type": "quantitative"}, "y": {"datum": -2.51}, "y2": {"datum": 3.56}}},
      {"data": {"values": [{"x1": 2.4, "x2": 15.9}]}, "mark": {"type": "rule", "color": "#ee1c24", "strokeWidth": 3.5},
       "encoding": {"x": {"field": "x1", "type": "quantitative"}, "x2": {"field": "x2"}, "y": {"datum": -2.51}}}
     ]},
    {"width": 201, "height": 151, "data": {"values": []}, "mark": "point", "encoding": {}},
    {"width": 201, "height": 90,
     "layer": [
      {"data": {"name": "difC"}, "mark": {"type": "area", "color": "#c0c0c0", "interpolate": "monotone"},
       "encoding": {"x": {"field": "a", "type": "quantitative", "scale": {"domain": [0, 24], "nice": false, "zero": false}, "axis": {"values": [0,4,8,12,16,20,24], "tickCount": 20, "format": "d", "offset": 4, "title": "Age (months)", "titlePadding": 1}},
        "y": {"field": "lo", "type": "quantitative", "scale": {"domain": [-4, 4], "nice": false, "zero": false}, "axis": {"values": [-4,-2,0,2,4], "tickCount": 20, "format": "d", "offset": 4, "title": ["Difference in B. infantis (Blon_2176)", "Log₁₀ genome equivalents/µg of DNA"], "titleFontSize": 9.3, "titleLineHeight": 11, "titlePadding": 6}},
        "y2": {"field": "hi"}}},
      {"data": {"values": [{}]}, "mark": {"type": "rule", "color": "#000", "strokeWidth": 1.3}, "encoding": {"y": {"datum": 0}}},
      {"data": {"name": "difC"}, "mark": {"type": "line", "color": "#000", "strokeWidth": 1.6, "interpolate": "monotone"},
       "encoding": {"x": {"field": "a", "type": "quantitative"}, "y": {"field": "d", "type": "quantitative"}}},
      {"data": {"values": [{"x": 2.5}, {"x": 6.4}, {"x": 11.7}, {"x": 12.1}]}, "mark": {"type": "rule", "color": "#ff2020", "strokeWidth": 1.5, "strokeDash": [2, 2]},
       "encoding": {"x": {"field": "x", "type": "quantitative"}, "y": {"datum": -4.36}, "y2": {"datum": 4.5}}},
      {"data": {"values": [{"x1": 2.5, "x2": 6.4}, {"x1": 11.7, "x2": 12.1}]}, "mark": {"type": "rule", "color": "#ee1c24", "strokeWidth": 3.5},
       "encoding": {"x": {"field": "x1", "type": "quantitative"}, "x2": {"field": "x2"}, "y": {"datum": -4.36}}}
     ]}
  ]}
]
}
